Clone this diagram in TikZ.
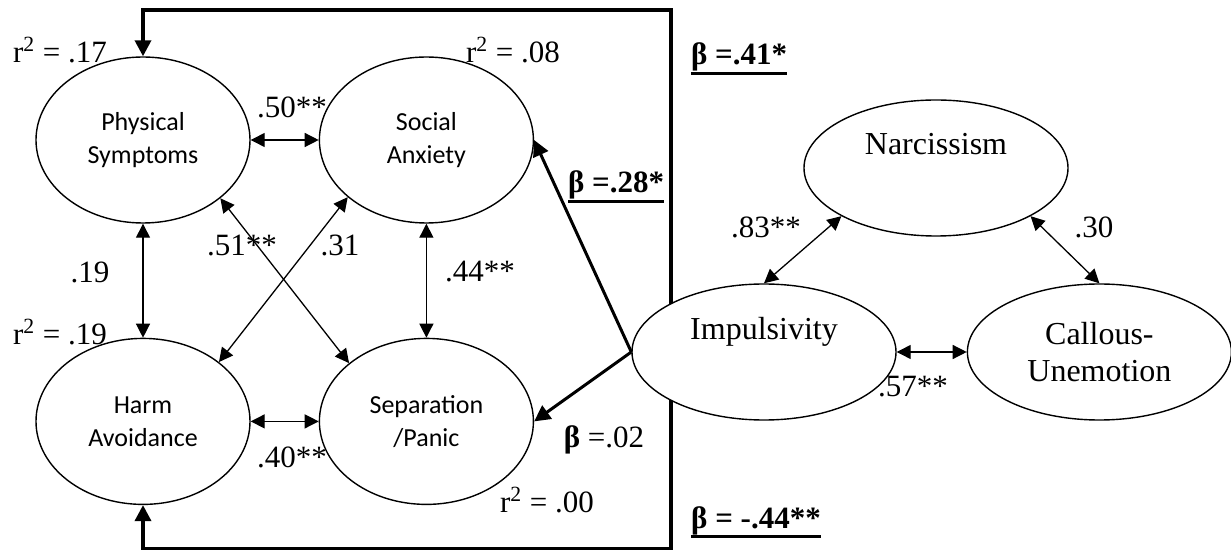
\documentclass[tikz,border=0pt]{standalone}
\usepackage{fontspec}
\setmainfont{Liberation Serif}
\newfontfamily\calib{Carlito}
\newcommand{\ulbeta}[1]{\leavevmode\vtop{\hbox{#1}\kern0.4pt\hrule height 1.5pt}}
\usetikzlibrary{shapes.geometric, arrows.meta, positioning, backgrounds}

\begin{document}
\begin{tikzpicture}[
  x=0.5pt, y=-0.5pt,
  >={Triangle[length=7pt, width=7pt]},
  latent/.style={draw, ellipse, fill=white, line width=0.7pt, inner sep=0pt, align=center},
  subscale/.style={latent, minimum width=107pt, minimum height=83pt,
    font=\calib\fontsize{13}{16.5}\selectfont},
  trait/.style={latent, minimum width=132pt, minimum height=68pt,
    font=\fontsize{16}{18.5}\selectfont},
  corr/.style={<->, line width=0.65pt},
  effect/.style={->, line width=1.5pt, >={Triangle[length=8pt, width=8pt]}},
  boxline/.style={effect, line width=1.75pt},
  coef/.style={font=\fontsize{15.5}{18.5}\selectfont, inner sep=0pt},
  betalbl/.style={coef, anchor=base, font=\bfseries\fontsize{15.5}{18.5}\selectfont}
]
  \useasboundingbox (0,0) rectangle (1231,550);

  % --- Subscales (left) ---
  \node[subscale] (ps) at (143,140) {Physical\\Symptoms};
  \node[subscale, right=34pt of ps] (sa) {Social\\Anxiety};
  \node[subscale, below=57pt of ps] (ha) {Harm\\Avoidance};
  \node[subscale, right=34pt of ha] (sp) {Separation\\/Panic};

  % --- Traits (right) ---
  \node[trait] (narc) at (936,168) {Narcissism\\\strut};
  \node[trait] (imp) at (764,352) {Impulsivity\\\strut};
  \node[trait, right=35pt of imp] (cu) {Callous-\\Unemotion};

  % --- Box paths ---
  \coordinate (cTR) at (671,10);
  \coordinate (cBR) at (671,549);
  \begin{scope}[on background layer]
    \draw[boxline] (imp.center -| cTR) -- (cTR) -| (ps.north);
    \draw[boxline] (imp.center -| cTR) -- (cBR) -| (ha.south);
  \end{scope}

  % --- Correlations ---
  \draw[corr] (ps) -- (sa);
  \draw[corr] (ha) -- (sp);
  \draw[corr] (ps) -- (ha);
  \draw[corr] (sa) -- (sp);
  \draw[corr] (ps.-37) -- (sp.143);
  \draw[corr] (sa.216) -- (ha.38);
  \draw[corr] (narc.207) -- (imp.north);
  \draw[corr] (narc.-27) -- (cu.north);
  \draw[corr] (imp) -- (cu);

  % --- Effects ---
  \draw[effect] (imp.west) -- (sa.east);
  \draw[effect] (imp.west) -- (sp.east);

  % --- Labels ---
  \node[coef] (r2ps) at (60,50) {r\textsuperscript{2} = .17};
  \node[coef] (r2sa) at (513,50) {r\textsuperscript{2} = .08};
  \node[coef] (r2ha) at (60,332) {r\textsuperscript{2} = .19};
  \node[coef] (r2sp) at (547,500) {r\textsuperscript{2} = .00};
  \node[coef] (c50) at (292,107) {.50**};
  \node[coef] (c51) at (242,245) {.51**};
  \node[coef] (c31) at (340,245) {.31};
  \node[coef] (c19) at (90,272) {.19};
  \node[coef] (c44) at (480,272) {.44**};
  \node[coef] (c40) at (292,457) {.40**};
  \node[coef] (c83) at (766,227) {.83**};
  \node[coef] (c30) at (1094,227) {.30};
  \node[coef] (c57) at (913,387) {.57**};
  \node[coef] (b02) at (604,440) {\textbf{β} =.02};
  \node[betalbl] (b28) at (616,193) {\ulbeta{β =.28*}};
  \node[betalbl] (b41) at (739,65) {\ulbeta{β =.41*}};
  \node[betalbl] (b44) at (756,528) {\ulbeta{β = -.44**}};
\end{tikzpicture}
\end{document}
